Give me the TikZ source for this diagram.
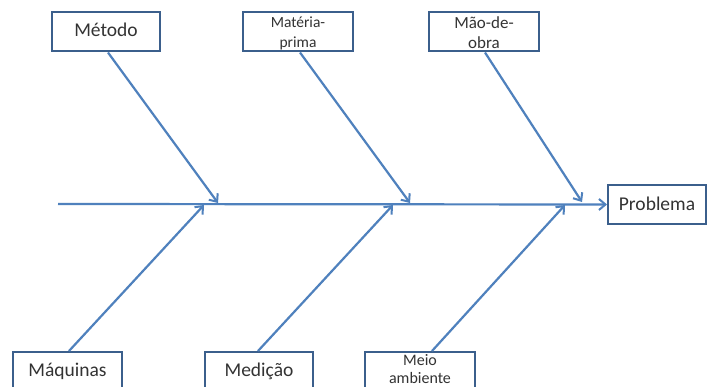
\documentclass[tikz,border=0pt]{standalone}
\usepackage{fontspec}
\setmainfont{Carlito}
\usetikzlibrary{arrows.meta}
\definecolor{linecol}{HTML}{4F81BD}
\definecolor{boxcol}{HTML}{3B5F8C}
\definecolor{txtcol}{HTML}{333333}
\begin{document}
\begin{tikzpicture}[x=1pt,y=-1pt,
  box/.style={draw=boxcol,line width=2pt,fill=white,minimum width=#1,minimum height=39pt,inner sep=0pt,anchor=center},
  box/.default=108pt,
  lbl/.style={text=txtcol,anchor=base,inner sep=0pt},
  branch/.style={draw=linecol,line width=2.2pt,-{Straight Barb[length=6.5pt,width=11pt,line width=2pt]}}]
\useasboundingbox (0,0) rectangle (707,387);
\clip (0,0) rectangle (707,387);
\fill[white] (0,0) rectangle (707,387);
% boxes
\node[box=108pt] (metodo) at (106,32) {};
\node[box=110pt] (materia) at (298,32) {};
\node[box=110pt] (mao) at (484,32) {};
\node[box=98pt] (prob) at (657,204.5) {};
\node[box=109pt] (maq) at (67.5,371.5) {};
\node[box=108pt] (med) at (259,371.5) {};
\node[box=110pt] (meio) at (420,371.5) {};
% labels
\node[lbl,font=\fontsize{19.5}{22}\selectfont] (tmetodo) at (106,37) {Método};
\node[lbl,font=\fontsize{15.5}{18}\selectfont] (tmat1) at (298,28) {Matéria-};
\node[lbl,font=\fontsize{15.5}{18}\selectfont] (tmat2) at (298,48) {prima};
\node[lbl,font=\fontsize{17}{20}\selectfont] (tmao1) at (484,29) {Mão-de-};
\node[lbl,font=\fontsize{17}{20}\selectfont] (tmao2) at (484,49) {obra};
\node[lbl,font=\fontsize{19.5}{22}\selectfont] (tprob) at (657,211) {Problema};
\node[lbl,font=\fontsize{19.5}{22}\selectfont] (tmaq) at (67.5,377) {Máquinas};
\node[lbl,font=\fontsize{19.5}{22}\selectfont] (tmed) at (259,377) {Medição};
\node[lbl,font=\fontsize{16}{19}\selectfont] (tmeio1) at (420,366) {Meio};
\node[lbl,font=\fontsize{16}{19}\selectfont] (tmeio2) at (420,383.5) {ambiente};
% spine
\coordinate (spine) at (58,204);
\draw[branch] (spine) -- (prob.west);
% arrow tips on spine
\coordinate (t1) at (218,203);
\coordinate (t2) at (410,203);
\coordinate (t3) at (582,202);
\coordinate (b1) at (204,205);
\coordinate (b2) at (393,205);
\coordinate (b3) at (565,205);
\draw[branch] ([xshift=2pt]metodo.south) -- (t1);
\draw[branch] ([xshift=2pt]materia.south) -- (t2);
\draw[branch] ([xshift=1pt]mao.south) -- (t3);
\draw[branch] ([xshift=1.5pt]maq.north) -- (b1);
\draw[branch] ([xshift=-1pt]med.north) -- (b2);
\draw[branch] ([xshift=12pt]meio.north) -- (b3);
\end{tikzpicture}
\end{document}
